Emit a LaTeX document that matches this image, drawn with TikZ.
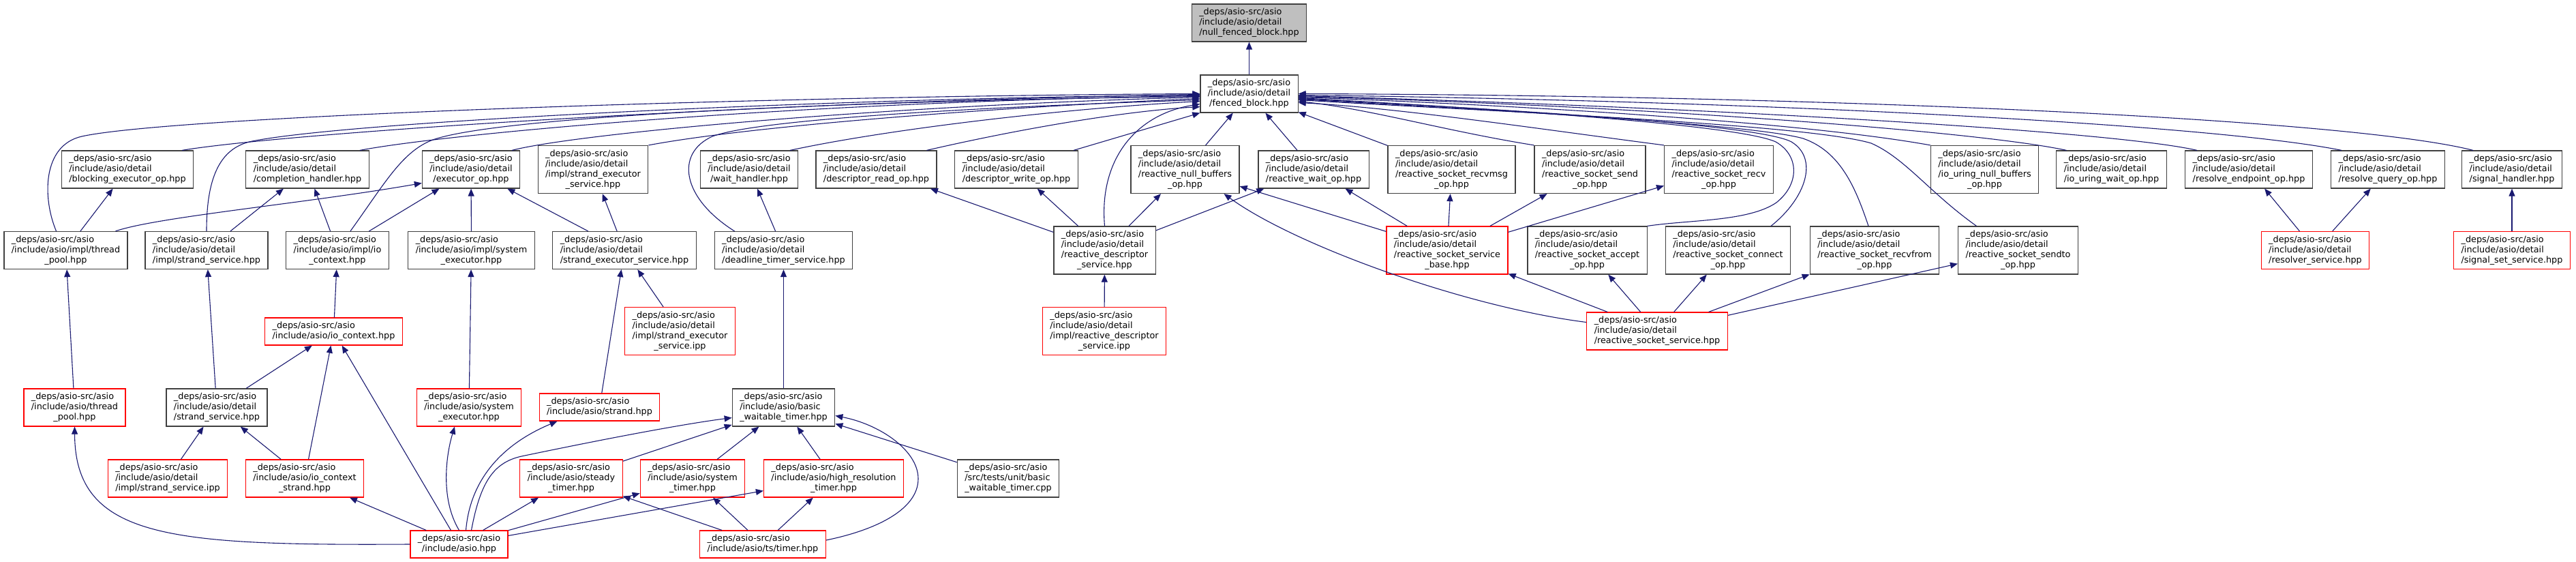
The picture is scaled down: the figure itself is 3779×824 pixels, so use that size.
\documentclass[tikz,border=0pt]{standalone}
\usepackage{fontspec}
\setmainfont{DejaVu Sans}
\usetikzlibrary{arrows.meta}
\definecolor{edgeblue}{RGB}{25,25,112}
\definecolor{boxgray}{RGB}{64,64,64}
\definecolor{rootgray}{RGB}{191,191,191}
\definecolor{truncred}{RGB}{255,0,0}
\newcommand{\asiosrc}{\_deps/asio-src/asio}
\newcommand{\flab}[2]{\begin{tabular}{@{}l@{}}#1\\\multicolumn{1}{@{}c@{}}{#2}\end{tabular}}

\begin{document}
\begin{tikzpicture}[x=1pt,y=-1pt,
  filebox/.style={draw=boxgray, line width=1.2pt, fill=white, inner xsep=11pt, inner ysep=5pt, font=\fontsize{12.8}{15}\selectfont},
  redbox/.style={filebox, draw=truncred},
  rootbox/.style={filebox, fill=rootgray},
  incl/.style={edgeblue, line width=1.1pt, -{Triangle[length=11pt,width=9pt]}}]
\useasboundingbox (0,0) rectangle (3779,824);
% root
\node[rootbox] (nfb) at (1832.5,33.5) {\flab{\asiosrc\\/include/asio/detail}{/null\_fenced\_block.hpp}};
\node[filebox] (fb) at (1832.5,137.5) {\flab{\asiosrc\\/include/asio/detail}{/fenced\_block.hpp}};
% row 2
\node[filebox] (beo) at (187,248.5) {\flab{\asiosrc\\/include/asio/detail}{/blocking\_executor\_op.hpp}};
\node[filebox] (ch) at (451,248.5) {\flab{\asiosrc\\/include/asio/detail}{/completion\_handler.hpp}};
\node[filebox] (eop) at (691,248.5) {\flab{\asiosrc\\/include/asio/detail}{/executor\_op.hpp}};
\node[filebox] (ises) at (870,248.5) {\flab{\asiosrc\\/include/asio/detail\\/impl/strand\_executor}{\_service.hpp}};
\node[filebox] (wh) at (1099,248.5) {\flab{\asiosrc\\/include/asio/detail}{/wait\_handler.hpp}};
\node[filebox] (dro) at (1285.5,248.5) {\flab{\asiosrc\\/include/asio/detail}{/descriptor\_read\_op.hpp}};
\node[filebox] (dwo) at (1491,248.5) {\flab{\asiosrc\\/include/asio/detail}{/descriptor\_write\_op.hpp}};
\node[filebox] (rnbo) at (1738.5,248.5) {\flab{\asiosrc\\/include/asio/detail\\/reactive\_null\_buffers}{\_op.hpp}};
\node[filebox] (rwo) at (1927,248.5) {\flab{\asiosrc\\/include/asio/detail}{/reactive\_wait\_op.hpp}};
\node[filebox] (rsrmo) at (2129.5,248.5) {\flab{\asiosrc\\/include/asio/detail\\/reactive\_socket\_recvmsg}{\_op.hpp}};
\node[filebox] (rsso) at (2332.5,248.5) {\flab{\asiosrc\\/include/asio/detail\\/reactive\_socket\_send}{\_op.hpp}};
\node[filebox] (rsro) at (2521.5,248.5) {\flab{\asiosrc\\/include/asio/detail\\/reactive\_socket\_recv}{\_op.hpp}};
\node[filebox] (iunbo) at (2911.5,248.5) {\flab{\asiosrc\\/include/asio/detail\\/io\_uring\_null\_buffers}{\_op.hpp}};
\node[filebox] (iuwo) at (3097.5,248.5) {\flab{\asiosrc\\/include/asio/detail}{/io\_uring\_wait\_op.hpp}};
\node[filebox] (rep) at (3299,248.5) {\flab{\asiosrc\\/include/asio/detail}{/resolve\_endpoint\_op.hpp}};
\node[filebox] (rqo) at (3503,248.5) {\flab{\asiosrc\\/include/asio/detail}{/resolve\_query\_op.hpp}};
\node[filebox] (sh) at (3685,248.5) {\flab{\asiosrc\\/include/asio/detail}{/signal\_handler.hpp}};
% row 3
\node[filebox] (itp) at (96.5,367) {\flab{\asiosrc\\/include/asio/impl/thread}{\_pool.hpp}};
\node[filebox] (iss) at (303,367) {\flab{\asiosrc\\/include/asio/detail}{/impl/strand\_service.hpp}};
\node[filebox] (iioc) at (495,367) {\flab{\asiosrc\\/include/asio/impl/io}{\_context.hpp}};
\node[filebox] (ise) at (691.5,367) {\flab{\asiosrc\\/include/asio/impl/system}{\_executor.hpp}};
\node[filebox] (dses) at (916,367) {\flab{\asiosrc\\/include/asio/detail}{/strand\_executor\_service.hpp}};
\node[filebox] (dts) at (1149.5,367) {\flab{\asiosrc\\/include/asio/detail}{/deadline\_timer\_service.hpp}};
\node[filebox] (rds) at (1620.5,367) {\flab{\asiosrc\\/include/asio/detail\\/reactive\_descriptor}{\_service.hpp}};
\node[redbox] (rssb) at (2123,367) {\flab{\asiosrc\\/include/asio/detail\\/reactive\_socket\_service}{\_base.hpp}};
\node[filebox] (rsao) at (2328.5,367) {\flab{\asiosrc\\/include/asio/detail\\/reactive\_socket\_accept}{\_op.hpp}};
\node[filebox] (rsco) at (2535,367) {\flab{\asiosrc\\/include/asio/detail\\/reactive\_socket\_connect}{\_op.hpp}};
\node[filebox] (rsrfo) at (2750,367) {\flab{\asiosrc\\/include/asio/detail\\/reactive\_socket\_recvfrom}{\_op.hpp}};
\node[filebox] (rssto) at (2960.5,367) {\flab{\asiosrc\\/include/asio/detail\\/reactive\_socket\_sendto}{\_op.hpp}};
\node[redbox] (rs) at (3396.5,367) {\flab{\asiosrc\\/include/asio/detail}{/resolver\_service.hpp}};
\node[redbox] (sss) at (3685,367) {\flab{\asiosrc\\/include/asio/detail}{/signal\_set\_service.hpp}};
% row 4
\node[redbox] (ioc) at (489.5,486) {\flab{\asiosrc}{/include/asio/io\_context.hpp}};
\node[redbox] (isesipp) at (997.5,485.5) {\flab{\asiosrc\\/include/asio/detail\\/impl/strand\_executor}{\_service.ipp}};
\node[redbox] (rdsipp) at (1620,485.5) {\flab{\asiosrc\\/include/asio/detail\\/impl/reactive\_descriptor}{\_service.ipp}};
\node[redbox] (rss) at (2431,485.5) {\flab{\asiosrc\\/include/asio/detail}{/reactive\_socket\_service.hpp}};
% row 5
\node[redbox] (tp) at (109.5,597.5) {\flab{\asiosrc\\/include/asio/thread}{\_pool.hpp}};
\node[filebox] (dss) at (318,597.5) {\flab{\asiosrc\\/include/asio/detail}{/strand\_service.hpp}};
\node[redbox] (se) at (688,597.5) {\flab{\asiosrc\\/include/asio/system}{\_executor.hpp}};
\node[redbox] (str) at (879.5,597) {\flab{\asiosrc}{/include/asio/strand.hpp}};
\node[filebox] (bwt) at (1149.5,597.5) {\flab{\asiosrc\\/include/asio/basic}{\_waitable\_timer.hpp}};
% row 6
\node[redbox] (ssipp) at (246,701.5) {\flab{\asiosrc\\/include/asio/detail}{/impl/strand\_service.ipp}};
\node[redbox] (iocs) at (447,701.5) {\flab{\asiosrc\\/include/asio/io\_context}{\_strand.hpp}};
\node[redbox] (stt) at (838,701.5) {\flab{\asiosrc\\/include/asio/steady}{\_timer.hpp}};
\node[redbox] (syt) at (1016,701.5) {\flab{\asiosrc\\/include/asio/system}{\_timer.hpp}};
\node[redbox] (hrt) at (1223,701.5) {\flab{\asiosrc\\/include/asio/high\_resolution}{\_timer.hpp}};
\node[filebox] (bwtcpp) at (1479,701.5) {\flab{\asiosrc\\/src/tests/unit/basic}{\_waitable\_timer.cpp}};
% row 7
\node[redbox] (asio) at (673.5,798) {\flab{\asiosrc}{/include/asio.hpp}};
\node[redbox] (tstimer) at (1119,798) {\flab{\asiosrc}{/include/asio/ts/timer.hpp}};

% includes of fenced_block, left side
\draw[incl] (fb) -- (nfb);
\draw[incl] ([xshift=-14pt]itp.north) .. controls (62,290) and (62,213) .. (120,200) .. controls (250,171) and (1100,141) .. (fb.west);
\draw[incl] ([xshift=80pt]beo.north) .. controls (420,195) and (1100,150) .. ([yshift=-1pt]fb.west);
\draw[incl] (iss.north) .. controls (303,265) and (320,217) .. (370,207) .. controls (520,177) and (1250,143) .. ([yshift=-2pt]fb.west);
\draw[incl] ([xshift=77pt]ch.north) .. controls (650,197) and (1150,150) .. ([yshift=-3pt]fb.west);
\draw[incl] ([xshift=19pt]iioc.north) .. controls (565,268) and (590,222) .. (635,205) .. controls (740,168) and (1300,147) .. ([yshift=-4pt]fb.west);
\draw[incl] ([xshift=60pt]eop.north) .. controls (850,195) and (1300,155) .. ([yshift=-5pt]fb.west);
\draw[incl] (ises.north east) .. controls (1100,185) and (1450,158) .. ([yshift=-7pt]fb.west);
\draw[incl] ([xshift=-72pt]dts.north) .. controls (1000,290) and (990,225) .. (1045,200) .. controls (1120,172) and (1500,155) .. ([yshift=-9pt]fb.west);
\draw[incl] ([xshift=60pt]wh.north) .. controls (1300,190) and (1550,160) .. ([yshift=-11pt]fb.west);
\draw[incl] (rds.north) .. controls (1612,235) and (1665,168) .. ([yshift=-15pt]fb.west);
\draw[incl] ([xshift=74pt]dro.north) .. controls (1500,188) and (1650,163) .. ([yshift=-19pt]fb.west);
\draw[incl] ([xshift=84pt]dwo.north) -- (fb.south west);
\draw[incl] (rnbo) -- (fb);
\draw[incl] (rwo) -- (fb);
\draw[incl] (rsrmo) -- (fb);
% includes of fenced_block, right side
\draw[incl] (rsso.north west) .. controls (2120,192) and (2010,160) .. ([yshift=-11pt]fb.east);
\draw[incl] (rsro.north west) .. controls (2250,188) and (2050,158) .. ([yshift=-13pt]fb.east);
\draw[incl] (iunbo.north west) .. controls (2650,180) and (2250,155) .. ([yshift=-5pt]fb.east);
\draw[incl] ([xshift=-66pt]iuwo.north) .. controls (2900,192) and (2400,155) .. ([yshift=-4pt]fb.east);
\draw[incl] ([xshift=-76pt]rep.north) .. controls (3100,192) and (2500,157) .. ([yshift=-3pt]fb.east);
\draw[incl] ([xshift=-68pt]rqo.north) .. controls (3250,183) and (2600,148) .. ([yshift=-2pt]fb.east);
\draw[incl] ([xshift=-57pt]sh.north) .. controls (3450,175) and (2700,140) .. (fb.east);
\draw[incl] (rsao.north east) .. controls (2480,322) and (2565,325) .. (2606,297) .. controls (2640,270) and (2640,228) .. (2605,208) .. controls (2550,183) and (2200,160) .. ([yshift=-6pt]fb.east);
\draw[incl] ([xshift=63pt]rsco.north) .. controls (2650,290) and (2668,232) .. (2628,208) .. controls (2580,182) and (2200,160) .. ([yshift=-7pt]fb.east);
\draw[incl] ([xshift=-9pt]rsrfo.north) .. controls (2722,275) and (2700,222) .. (2645,203) .. controls (2570,182) and (2200,162) .. ([yshift=-8pt]fb.east);
\draw[incl] ([xshift=-61pt]rssto.north) .. controls (2830,282) and (2795,232) .. (2745,210) .. controls (2650,182) and (2200,164) .. ([yshift=-9pt]fb.east);

% row 3 -> row 2
\draw[incl] (itp) -- (beo);
\draw[incl] ([xshift=73pt]itp.north) .. controls (230,318) and (450,298) .. ([yshift=-20pt]eop.west);
\draw[incl] (iss) -- (ch);
\draw[incl] (iioc) -- (ch);
\draw[incl] (iioc) -- (eop);
\draw[incl] (ise) -- (eop);
\draw[incl] (dses) -- (eop);
\draw[incl] (dses) -- (ises);
\draw[incl] (dts) -- (wh);
\draw[incl] (rds) -- (dro);
\draw[incl] (rds) -- (dwo);
\draw[incl] (rds) -- (rnbo);
\draw[incl] (rds) -- (rwo);
\draw[incl] (rssb) -- (rnbo);
\draw[incl] (rssb) -- (rwo);
\draw[incl] (rssb) -- (rsrmo);
\draw[incl] (rssb) -- (rsso);
\draw[incl] (rssb) -- (rsro);
\draw[incl] (rs) -- (rep);
\draw[incl] (rs) -- (rqo);
\draw[incl] (sss) -- (sh);
% row 4
\draw[incl] (ioc) -- (iioc);
\draw[incl] (isesipp) -- (dses);
\draw[incl] (rdsipp) -- (rds);
\draw[incl] (rss) -- (rssb);
\draw[incl] (rss) -- (rsao);
\draw[incl] (rss) -- (rsco);
\draw[incl] (rss) -- (rsrfo);
\draw[incl] (rss) -- (rssto);
\draw[incl] ([yshift=13pt]rss.west) .. controls (2150,450) and (1900,360) .. ([xshift=57pt]rnbo.south);
% row 5
\draw[incl] (tp) -- (itp);
\draw[incl] (dss) -- (iss);
\draw[incl] (dss) -- (ioc);
\draw[incl] (se) -- (ise);
\draw[incl] (str) -- (dses);
\draw[incl] (bwt) -- (dts);
% row 6
\draw[incl] (ssipp) -- (dss);
\draw[incl] (iocs) -- (dss);
\draw[incl] (iocs) -- (ioc);
\draw[incl] (stt) -- (bwt);
\draw[incl] (syt) -- (bwt);
\draw[incl] (hrt) -- (bwt);
\draw[incl] (bwtcpp) -- (bwt);
% row 7
\draw[incl] (asio.west) .. controls (250,800) and (110,790) .. (tp.south);
\draw[incl] (asio) -- (iocs);
\draw[incl] (asio) -- (ioc);
\draw[incl] (asio.north) .. controls (645,730) and (655,665) .. ([xshift=-21pt]se.south);
\draw[incl] ([xshift=10pt]asio.north) .. controls (690,700) and (740,650) .. ([xshift=-62pt]str.south);
\draw[incl] ([xshift=18pt]asio.north) .. controls (705,705) and (725,678) .. (765,669) .. controls (880,645) and (1000,622) .. ([yshift=-15pt]bwt.west);
\draw[incl] (asio) -- (stt);
\draw[incl] (asio) -- (syt);
\draw[incl] (asio) -- (hrt);
\draw[incl] (tstimer) -- (stt);
\draw[incl] (tstimer) -- (syt);
\draw[incl] (tstimer) -- (hrt);
\draw[incl] ([yshift=6pt]tstimer.east) .. controls (1290,776) and (1347,745) .. (1347,702) .. controls (1347,660) and (1290,622) .. ([yshift=-12pt]bwt.east);
\end{tikzpicture}
\end{document}
